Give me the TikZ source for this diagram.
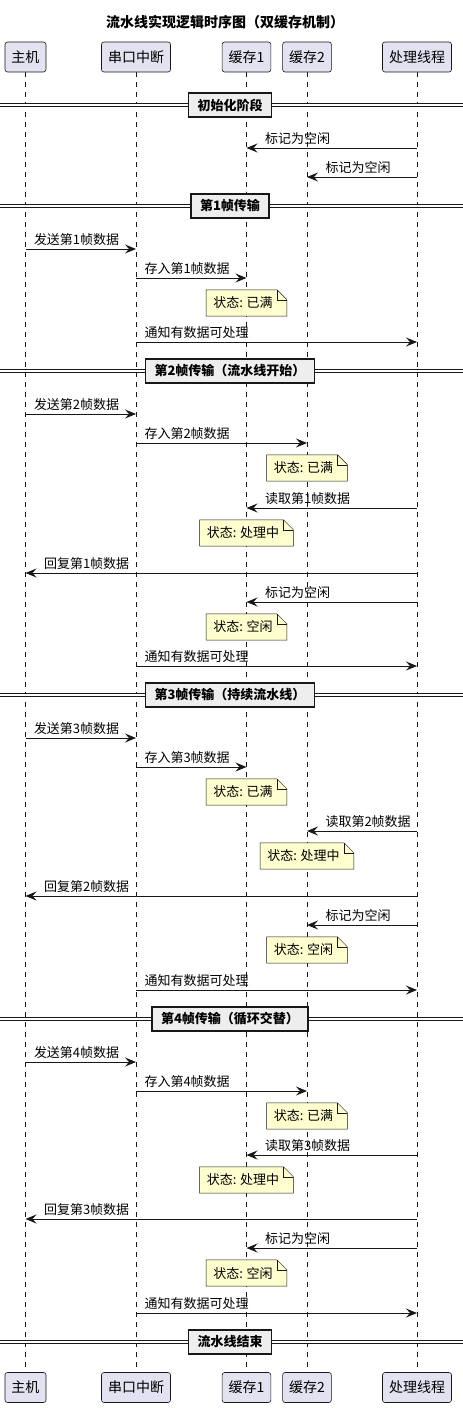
\documentclass[tikz,border=0pt]{standalone}
\usepackage{fontspec}
\setmainfont{Noto Sans CJK SC}
\usetikzlibrary{arrows.meta, positioning}

\definecolor{partfill}{HTML}{E2E2F0}
\definecolor{linecol}{HTML}{181818}
\definecolor{notefill}{HTML}{FEFECE}
\definecolor{divfill}{HTML}{EEEEEE}

\pgfdeclarelayer{back}
\pgfsetlayers{back,main}

\begin{document}
\begin{tikzpicture} [x = 1pt, y = -1pt,
        part/.style = {draw = linecol, fill = partfill, rounded corners = 2.5pt, line width = 0.6pt,
            minimum height = 30pt, inner xsep = 6.5pt, font = \fontsize{14}{16}\selectfont},
        lifeline/.style = {draw = linecol, line width = 0.5pt, dash pattern = on 5pt off 5pt},
        msg/.style = {draw = linecol, line width = 1pt, -{Stealth[length = 11pt, width = 9pt, inset = 4pt]}},
        msglabel/.style = {anchor = base west, inner sep = 0pt, font = \fontsize{13}{15}\selectfont},
        notetext/.style = {inner xsep = 0pt, inner ysep = 0pt, minimum height = 26pt, font = \fontsize{13}{15}\selectfont},
        notebox/.style = {draw = linecol, fill = notefill, line width = 0.5pt},
        divider/.style = {draw = linecol, fill = divfill, line width = 1.5pt, minimum height = 24pt,
            inner xsep = 9pt, font = \bfseries\fontsize{13}{15}\selectfont},
        divline/.style = {draw = linecol, line width = 1pt, double = white, double distance = 2pt}]

        \useasboundingbox (0,0) rectangle (463,1408);

        \node (title) [font = \bfseries\fontsize{14}{16}\selectfont] at (225,22) {流水线实现逻辑时序图（双缓存机制）};

        % participants and lifelines
        \foreach \n/\x/\t in {host/25.5/主机, isr/136/串口中断, buf1/246.5/缓存1, buf2/307/缓存2, work/417/处理线程} {
            \node (\n) [part] at (\x,57) {\t};
            \node (\n-bot) [part] at (\x,1387.5) {\t};
            \begin{pgfonlayer}{back}
                \draw [lifeline] (\n.south) -- (\n-bot.north);
            \end{pgfonlayer}
        }

        % phases
        \foreach \n/\y/\t in {ph0/105/初始化阶段, ph1/206/第1帧传输, ph2/371/第2帧传输（流水线开始）,
                ph3/695/第3帧传输（持续流水线）, ph4/1019/第4帧传输（循环交替）, ph5/1342/流水线结束} {
            \node (\n) [divider] at (230,\y) {\t};
            \begin{pgfonlayer}{back}
                \draw [divline] (0,\y) -- (463,\y);
            \end{pgfonlayer}
        }

        % messages to the right
        \foreach \a/\b/\y/\t in {host/isr/249/发送第1帧数据, isr/buf1/278/存入第1帧数据, isr/work/342/通知有数据可处理,
                host/isr/414/发送第2帧数据, isr/buf2/443/存入第2帧数据, isr/work/666/通知有数据可处理,
                host/isr/738/发送第3帧数据, isr/buf1/767/存入第3帧数据, isr/work/990/通知有数据可处理,
                host/isr/1062/发送第4帧数据, isr/buf2/1091/存入第4帧数据, isr/work/1313/通知有数据可处理}
            \draw [msg] (\a |- 0,\y) -- (\b |- 0,\y) node [msglabel, at start, xshift = 8pt, yshift = 4.5pt] {\t};

        % messages back from the worker
        \foreach \b/\y/\t in {buf1/148/标记为空闲, buf2/177/标记为空闲, buf1/508/读取第1帧数据, host/573/回复第1帧数据,
                buf1/602/标记为空闲, buf2/831/读取第2帧数据, host/896/回复第2帧数据, buf2/925/标记为空闲,
                buf1/1155/读取第3帧数据, host/1219/回复第3帧数据, buf1/1248/标记为空闲}
            \draw [msg] (work |- 0,\y) -- (\b |- 0,\y) node [msglabel, at end, xshift = 18pt, yshift = 4.5pt] {\t};

        % notes
        \foreach \n/\l/\y/\t in {n1/buf1/303/状态: 已满, n2/buf2/468/状态: 已满, n3/buf1/533/状态: 处理中,
                n4/buf1/627/状态: 空闲, n5/buf1/792/状态: 已满, n6/buf2/856/状态: 处理中, n7/buf2/950/状态: 空闲,
                n8/buf2/1116/状态: 已满, n9/buf1/1180/状态: 处理中, n10/buf1/1273/状态: 空闲} {
            \path (\l |- 0,\y) node (\n) [notetext, xshift = -3.5pt] {\t};
            \begin{pgfonlayer}{back}
                \draw [notebox] ([xshift = -7pt]\n.south west) -- ([xshift = -7pt]\n.north west)
                    -- ([xshift = 4pt]\n.north east) -- ([xshift = 14pt, yshift = -10pt]\n.north east)
                    -- ([xshift = 14pt]\n.south east) -- cycle;
                \draw [notebox, fill = none] ([xshift = 4pt]\n.north east) -- ([xshift = 4pt, yshift = -10pt]\n.north east)
                    -- ([xshift = 14pt, yshift = -10pt]\n.north east);
            \end{pgfonlayer}
        }
    \end{tikzpicture}
\end{document}
